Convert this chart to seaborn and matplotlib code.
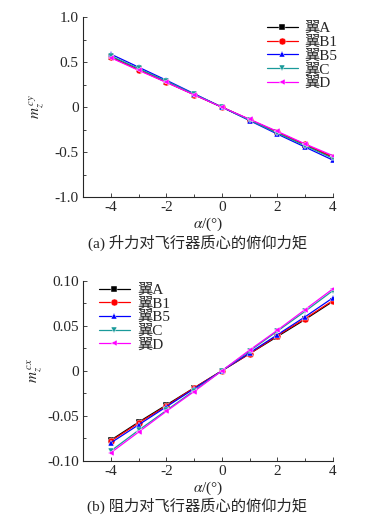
import numpy as np
import pandas as pd
import seaborn as sns
import matplotlib.pyplot as plt

alpha = [-4, -3, -2, -1, 0, 1, 2, 3, 4]
wings = ["翼A", "翼B1", "翼B5", "翼C", "翼D"]

# lift pitching moment m_z^cy
cy_A = [0.56, 0.42, 0.28, 0.14, 0.0, -0.14, -0.28, -0.42, -0.56]
cy_B1 = [0.555, 0.415, 0.278, 0.139, 0.0, -0.139, -0.278, -0.415, -0.555]
cy_B5 = [0.59, 0.445, 0.30, 0.15, 0.0, -0.15, -0.30, -0.445, -0.59]
cy_C = [0.57, 0.43, 0.29, 0.145, 0.0, -0.145, -0.29, -0.43, -0.57]
cy_D = [0.55, 0.41, 0.275, 0.137, 0.0, -0.135, -0.27, -0.41, -0.54]

# drag pitching moment m_z^cx
cx_A = [-0.077, -0.057, -0.038, -0.019, 0.0, 0.019, 0.038, 0.057, 0.077]
cx_B1 = [-0.078, -0.058, -0.039, -0.019, 0.0, 0.019, 0.039, 0.058, 0.078]
cx_B5 = [-0.080, -0.060, -0.040, -0.020, 0.0, 0.020, 0.040, 0.060, 0.081]
cx_C = [-0.089, -0.066, -0.044, -0.022, 0.0, 0.022, 0.044, 0.066, 0.089]
cx_D = [-0.091, -0.068, -0.045, -0.023, 0.0, 0.023, 0.045, 0.068, 0.091]

colors = ["#000000", "#ff0000", "#0000ff", "#1a9a9a", "#ff00ff"]
markers = ["s", "o", "^", "v", "<"]


def to_long(series):
    rows = []
    for w, vals in zip(wings, series):
        for a, v in zip(alpha, vals):
            rows.append({"alpha": a, "m": v, "wing": w})
    return pd.DataFrame(rows)


df_cy = to_long([cy_A, cy_B1, cy_B5, cy_C, cy_D])
df_cx = to_long([cx_A, cx_B1, cx_B5, cx_C, cx_D])

sns.set_style("ticks")
plt.rcParams["font.family"] = ["Liberation Serif", "Noto Sans CJK SC"]
plt.rcParams["mathtext.fontset"] = "stix"
plt.rcParams["xtick.direction"] = "in"
plt.rcParams["ytick.direction"] = "in"

fig = plt.figure(figsize=(3.72, 5.15), dpi=100)
ax1 = fig.add_axes([0.223, 0.6175, 0.672, 0.349])
ax2 = fig.add_axes([0.223, 0.105, 0.672, 0.350])

pal = dict(zip(wings, colors))
mk = dict(zip(wings, markers))

for ax, df in [(ax1, df_cy), (ax2, df_cx)]:
    sns.lineplot(data=df, x="alpha", y="m", hue="wing", style="wing",
                 palette=pal, markers=mk, dashes=False, ax=ax,
                 linewidth=0.9, markersize=5, markeredgewidth=0.3)
    ax.set_xlim(-5, 4)
    ax.set_xticks([-4, -2, 0, 2, 4])
    ax.set_xticks([-3, -1, 1, 3], minor=True)
    ax.set_xticklabels(["-4", "-2", "0", "2", "4"])
    ax.tick_params(which="major", length=3, width=0.6, labelsize=11, pad=3)
    ax.tick_params(which="minor", length=2, width=0.6)
    sns.despine(ax=ax)
    ax.spines["left"].set_linewidth(0.8)
    ax.spines["bottom"].set_linewidth(0.8)
    ax.set_xlabel(r"$\alpha$/(°)", fontsize=11, labelpad=1)

ax1.set_ylim(-1.0, 1.0)
ax1.set_yticks([-1.0, -0.5, 0, 0.5, 1.0])
ax1.set_yticks([-0.75, -0.25, 0.25, 0.75], minor=True)
ax1.set_yticklabels(["-1.0", "-0.5", "0", "0.5", "1.0"])
ax1.set_ylabel(r"$m_z^{\,cy}$", fontsize=11, labelpad=6)
ax1.legend(loc="upper right", frameon=False, fontsize=11, handlelength=2.0,
           labelspacing=0.0, handletextpad=0.4, borderaxespad=0.0,
           bbox_to_anchor=(1.04, 1.01))

ax2.set_ylim(-0.10, 0.10)
ax2.set_yticks([-0.10, -0.05, 0, 0.05, 0.10])
ax2.set_yticks([-0.075, -0.025, 0.025, 0.075], minor=True)
ax2.set_yticklabels(["-0.10", "-0.05", "0", "0.05", "0.10"])
ax2.set_ylabel(r"$m_z^{\,cx}$", fontsize=11, labelpad=2)
ax2.legend(loc="upper left", frameon=False, fontsize=11, handlelength=2.0,
           labelspacing=0.0, handletextpad=0.5, borderaxespad=0.0,
           bbox_to_anchor=(0.04, 1.02))

fig.text(0.53, 1 - 243 / 515, "(a) 升力对飞行器质心的俯仰力矩", ha="center",
         va="center", fontsize=11)
fig.text(0.53, 1 - 506 / 515, "(b) 阻力对飞行器质心的俯仰力矩", ha="center",
         va="center", fontsize=11)

fig.savefig("out.png", dpi=100)
